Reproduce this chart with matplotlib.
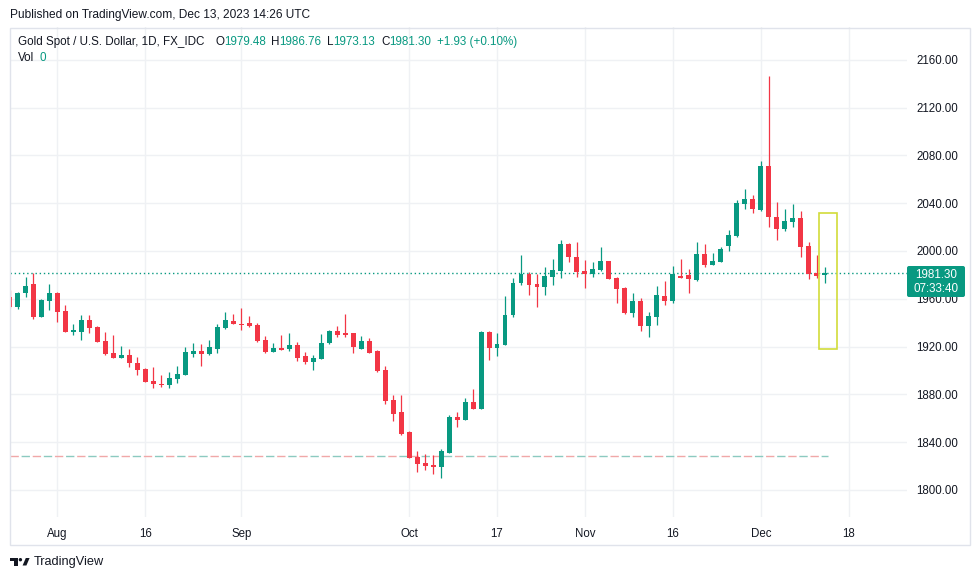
import matplotlib
matplotlib.use("Agg")
import matplotlib.pyplot as plt
from matplotlib.patches import Rectangle, Polygon, Circle, FancyBboxPatch

plt.rcParams['font.family'] = ['Liberation Sans', 'DejaVu Sans']

# daily bars, Jul 24 2023 .. Dec 13 2023 (bar 0 = Aug 1)
first_bar = -6
opens = [1961.8, 1953.3, 1964.6, 1972.4, 1945.0, 1958.4,
         1965.1, 1949.8, 1932.5, 1932.5, 1942.3, 1936.7, 1924.9, 1914.4, 1910.7, 1913.0,
         1906.0, 1901.3, 1891.2, 1888.7, 1887.9, 1892.9, 1896.2, 1913.8, 1916.3, 1913.6,
         1918.0, 1935.6, 1941.4, 1939.2, 1940.0, 1938.3, 1925.5, 1915.7, 1919.1, 1918.0,
         1921.3, 1912.1, 1907.4, 1909.9, 1922.8, 1933.1, 1931.4, 1931.1, 1918.2, 1924.7,
         1916.3, 1900.4, 1875.3, 1865.3, 1848.5, 1827.9, 1822.6, 1821.2, 1819.5, 1831.2,
         1861.1, 1858.8, 1873.6, 1868.0, 1932.5, 1919.1, 1921.6, 1946.4, 1973.0, 1980.8,
         1972.4, 1970.1, 1978.5, 1983.5, 2005.9, 1994.7, 1983.3, 1980.8, 1984.1, 1991.6,
         1977.7, 1969.3, 1948.4, 1958.2, 1937.5, 1945.0, 1962.3, 1958.4, 1979.1, 1979.9,
         1975.7, 1997.5, 1988.5, 1991.1, 2004.4, 2012.6, 2039.3, 2043.5, 2034.3, 2071.1,
         2028.2, 2018.7, 2024.5, 2027.6, 2004.2, 1981.6, 1979.48]
highs = [1967.4, 1965.7, 1978.5, 1981.3, 1959.5, 1972.4,
         1965.6, 1954.8, 1939.0, 1946.4, 1946.4, 1937.5, 1932.5, 1929.7, 1920.5, 1917.7,
         1911.0, 1901.8, 1902.7, 1896.2, 1898.5, 1903.8, 1919.4, 1922.8, 1922.2, 1925.5,
         1938.7, 1948.7, 1947.3, 1952.0, 1945.6, 1939.6, 1929.1, 1923.3, 1929.7, 1931.1,
         1923.8, 1915.5, 1913.0, 1930.5, 1934.1, 1937.2, 1947.3, 1931.6, 1928.9, 1926.9,
         1916.8, 1903.8, 1879.5, 1879.5, 1849.6, 1832.6, 1830.1, 1829.3, 1834.6, 1862.8,
         1865.3, 1877.2, 1884.5, 1932.9, 1933.0, 1931.6, 1962.3, 1977.2, 1996.7, 1982.2,
         1980.8, 1986.4, 1993.3, 2009.2, 2006.9, 2007.3, 1992.5, 1990.8, 2003.6, 1992.0,
         1978.2, 1969.8, 1964.6, 1960.4, 1949.2, 1970.7, 1974.9, 1987.4, 1993.3, 1984.9,
         2007.5, 2005.9, 1998.6, 2003.6, 2017.6, 2042.7, 2051.6, 2046.9, 2075.3, 2146.4,
         2041.0, 2035.1, 2039.3, 2033.5, 2007.5, 1996.7, 1986.76]
lows = [1952.3, 1951.7, 1961.8, 1942.8, 1944.5, 1950.6,
        1940.8, 1932.0, 1929.7, 1925.5, 1931.6, 1923.5, 1913.3, 1910.2, 1910.2, 1902.7,
        1896.2, 1890.0, 1885.1, 1886.4, 1885.1, 1889.3, 1895.8, 1911.5, 1904.0, 1913.0,
        1914.9, 1935.0, 1938.8, 1933.9, 1936.7, 1924.1, 1914.6, 1915.2, 1916.9, 1916.6,
        1907.7, 1905.4, 1900.4, 1909.4, 1922.3, 1928.3, 1928.3, 1914.4, 1917.7, 1914.4,
        1898.7, 1872.3, 1858.0, 1846.0, 1826.5, 1815.3, 1816.7, 1813.1, 1810.3, 1830.7,
        1853.0, 1858.3, 1867.5, 1867.5, 1908.8, 1912.4, 1921.1, 1945.0, 1971.5, 1963.2,
        1953.4, 1963.2, 1971.5, 1977.2, 1991.0, 1978.5, 1969.3, 1978.5, 1983.5, 1976.3,
        1956.7, 1947.0, 1945.0, 1933.3, 1928.3, 1938.1, 1954.8, 1956.7, 1977.2, 1965.1,
        1975.2, 1986.9, 1988.0, 1990.6, 2000.3, 2012.0, 2035.4, 2031.5, 2033.5, 2020.3,
        2009.2, 2017.0, 2020.3, 1995.2, 1976.3, 1977.2, 1973.13]
closes = [1953.3, 1965.1, 1970.7, 1945.0, 1959.0, 1965.1,
          1949.2, 1932.5, 1933.5, 1942.3, 1935.8, 1924.1, 1913.8, 1910.7, 1913.0, 1906.5,
          1900.4, 1890.6, 1888.7, 1887.9, 1893.5, 1897.1, 1915.7, 1916.6, 1913.6, 1919.4,
          1936.7, 1942.3, 1939.2, 1938.3, 1937.5, 1924.9, 1915.7, 1919.1, 1917.4, 1921.3,
          1910.5, 1907.4, 1910.5, 1923.3, 1933.3, 1930.0, 1929.7, 1919.4, 1924.7, 1914.9,
          1899.6, 1874.7, 1863.6, 1846.9, 1827.0, 1822.0, 1820.3, 1819.5, 1832.6, 1861.3,
          1858.8, 1873.6, 1868.0, 1932.5, 1919.1, 1922.4, 1946.7, 1973.0, 1980.8, 1971.5,
          1970.1, 1979.1, 1984.1, 2005.9, 1994.7, 1982.4, 1980.8, 1984.7, 1991.6, 1976.8,
          1968.5, 1948.4, 1958.4, 1937.5, 1945.6, 1963.2, 1958.4, 1980.8, 1977.7, 1976.6,
          1997.5, 1988.5, 1991.6, 2001.7, 2013.4, 2039.9, 2043.5, 2035.4, 2071.1, 2028.2,
          2018.7, 2024.9, 2027.6, 2003.6, 1981.0, 1979.37, 1981.30]

tick_bars = [0, 11, 23, 44, 55, 66, 77, 88, 99]
tick_names = ['Aug', '16', 'Sep', 'Oct', '17', 'Nov', '16', 'Dec', '18']
price_ticks = [1800, 1840, 1880, 1920, 1960, 2000, 2040, 2080, 2120, 2160]

last_price = 1981.30
line_level = 1828.5
box_bars = (95.35, 97.5)
box_prices = (1918.2, 2031.5)

UP = '#089981'
DOWN = '#F23645'
TXT = '#131722'
GRID = '#eff1f4'

W, H = 980, 581
fig = plt.figure(figsize=(9.8, 5.81), dpi=100)
ax = fig.add_axes([10 / W, 1 - 517 / H, 897 / W, 490 / H])

bars = list(range(first_bar, first_bar + len(opens)))
for i, o, h, l, c in zip(bars, opens, highs, lows, closes):
    col = UP if c >= o else DOWN
    ax.vlines(i, l, h, color=col, lw=0.9, zorder=3)
    ax.bar(i, max(abs(c - o), 0.9), bottom=min(o, c), width=0.62, color=col,
           lw=0, zorder=4)

ax.set_xlim(-5.94, 106.3)
ax.set_ylim(1777.4, 2187.4)

ax.set_xticks(tick_bars)
ax.set_xticklabels(tick_names)
ax.set_yticks(price_ticks)
ax.set_yticklabels([f'{p:.2f}' for p in price_ticks])
ax.yaxis.tick_right()
ax.tick_params(axis='both', length=0, labelsize=8.3, colors=TXT)
ax.tick_params(axis='x', pad=8)
ax.tick_params(axis='y', pad=6.5)
ax.grid(True, color=GRID, lw=1, zorder=0)
for s in ax.spines.values():
    s.set_visible(False)

# last price line and the dashed level line
ax.axhline(last_price, color=UP, lw=1, ls=(0, (1, 2)), zorder=2)
ax.hlines(line_level, -5.94, 96.4, color='#f0a8a8', lw=1, ls=(0, (6, 10)), zorder=2)
ax.hlines(line_level, -5.94, 96.4, color='#8ccac0', lw=1, ls=(8, (6, 10)), zorder=2)

ax.add_patch(Rectangle((box_bars[0], box_prices[0]), box_bars[1] - box_bars[0],
                       box_prices[1] - box_prices[0], fill=False,
                       edgecolor='#d2dc3a', lw=1.2, zorder=5))

# overlay in pixel coordinates
ov = fig.add_axes([0, 0, 1, 1])
ov.set_xlim(0, W)
ov.set_ylim(H, 0)
ov.axis('off')
ov.patch.set_alpha(0)

ov.add_patch(Rectangle((9.5, 27.5), 960.5, 517, fill=False, edgecolor='#e0e3eb', lw=1))

ov.add_patch(FancyBboxPatch((907, 266), 58, 31, boxstyle='round,pad=0,rounding_size=2',
                            facecolor=UP, edgecolor='none'))
ov.text(936, 275.5, f'{last_price:.2f}', color='white', fontsize=8.4, ha='center', va='center')
ov.text(936, 289, '07:33:40', color='white', fontsize=8.4, ha='center', va='center')

ov.text(10, 15, 'Published on TradingView.com, Dec 13, 2023 14:26 UTC', color=TXT,
        fontsize=8.6, va='center')

rend = fig.canvas.get_renderer()


def chain(x, y, parts):
    for s, c, gap in parts:
        t = ov.text(x, y, s, color=c, fontsize=8.4, va='center', ha='left')
        x += t.get_window_extent(rend).width + gap


chain(18.3, 42, [('Gold Spot / U.S. Dollar, 1D, FX_IDC', TXT, 0)])
chain(215, 42, [('O', TXT, 0), (f'{opens[-1]:.2f}', UP, 0)])
chain(270.7, 42, [('H', TXT, 0), (f'{highs[-1]:.2f}', UP, 0)])
chain(326.7, 42, [('L', TXT, 0), (f'{lows[-1]:.2f}', UP, 0)])
chain(381, 42, [('C', TXT, 0), (f'{closes[-1]:.2f}', UP, 0)])
chain(436.7, 42, [('+1.93 (+0.10%)', UP, 0)])
chain(18.3, 58, [('Vol', TXT, 5), ('0', UP, 0)])

# TradingView logo
ov.add_patch(Rectangle((10, 558), 7.5, 3.2, color=TXT, lw=0))
ov.add_patch(Rectangle((13.8, 558), 3.7, 7.5, color=TXT, lw=0))
ov.add_patch(Circle((20.4, 559.7), 1.7, color=TXT, lw=0))
ov.add_patch(Polygon([(22.6, 565.5), (25.8, 558), (29.6, 558), (26.4, 565.5)], color=TXT, lw=0))
ov.text(33.5, 562.5, 'TradingView', color=TXT, fontsize=9.2, va='center')

fig.savefig('out.png', dpi=100)
